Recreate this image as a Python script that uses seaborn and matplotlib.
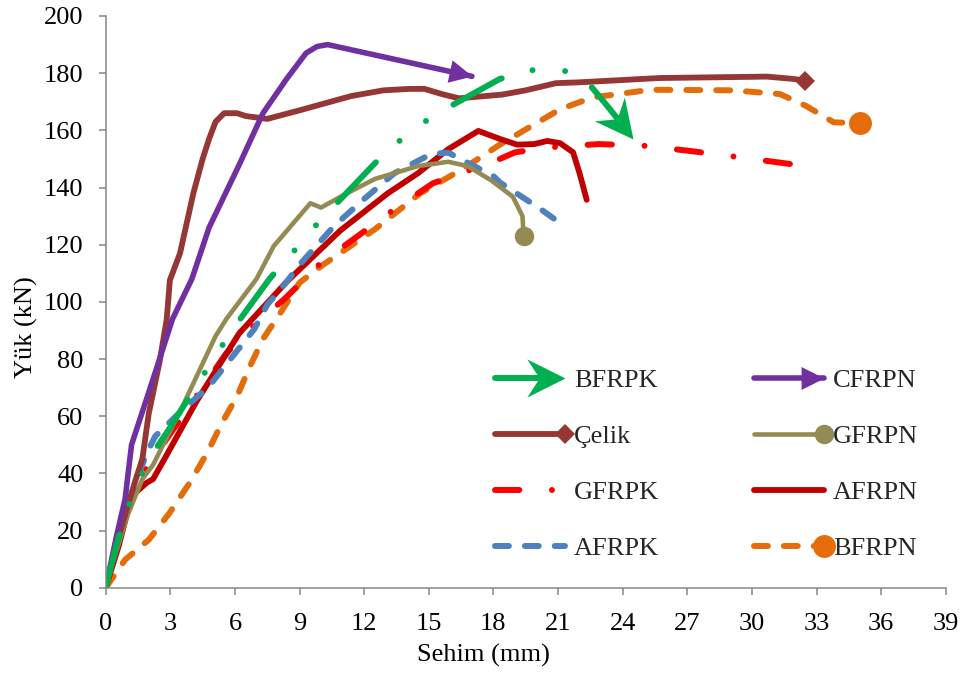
import numpy as np
import matplotlib
matplotlib.use("Agg")
import matplotlib.pyplot as plt
import seaborn as sns
from matplotlib.path import Path
from matplotlib.markers import MarkerStyle
from matplotlib.transforms import Affine2D
from matplotlib.lines import Line2D
from matplotlib.legend_handler import HandlerLine2D

# load-deflection curves (deflection in mm, load in kN)
bfrpk_x = [0, 0.5, 1.2, 2.0, 2.9, 3.7, 4.5, 5.3, 6.1, 7.6, 8.6, 9.6, 10.6, 12.5, 13.5, 14.7, 15.9, 18.3, 19.7, 21.1, 22.3, 23.4, 24.5]
bfrpk_y = [0, 15, 32, 45, 55, 64.5, 74, 83.5, 92.5, 108, 116.5, 125.5, 133.5, 148.5, 155.5, 162.5, 168, 178, 181, 181.5, 177.5, 167.5, 157]

cfrpn_x = [0, 0.5, 0.9, 1.2, 2.2, 3.1, 4.0, 4.8, 6.2, 7.3, 8.4, 9.3, 9.8, 10.3, 17.0]
cfrpn_y = [0, 18, 31, 50, 73, 94, 108, 126, 148, 166, 178, 187, 189.3, 190, 178.9]

celik_x = [0, 0.5, 1.0, 1.4, 1.7, 2.0, 2.5, 2.83, 2.98, 3.45, 4.07, 4.5, 4.8, 5.1, 5.5, 6.1, 6.5, 7.5, 9.0, 11.4, 12.9, 14.1, 14.8, 15.6, 16.4, 18.4, 19.5, 20.9, 22.0, 25.7, 30.7, 31.9, 32.45]
celik_y = [0, 15, 28, 38, 45, 61, 79, 93.7, 107.6, 117, 138, 150, 157, 163, 166, 166, 165, 164, 167, 172, 174, 174.5, 174.5, 172.7, 171.2, 172.5, 174, 176.5, 176.8, 178.3, 178.8, 178, 177.4]

gfrpn_x = [0, 0.3, 1.0, 1.7, 2.2, 3.6, 5.1, 5.6, 7.0, 7.8, 9.5, 10.0, 11.2, 12.5, 14.5, 15.9, 16.8, 17.9, 18.9, 19.35, 19.4]
gfrpn_y = [0, 8, 25, 38, 43, 64, 88, 94, 108, 119.5, 134.5, 133, 138, 143, 147.5, 149, 147.5, 142.5, 136.8, 130, 123.2]

gfrpk_x = [0, 0.5, 1.2, 1.9, 3.1, 4.4, 5.6, 7.0, 8.3, 10.0, 11.7, 13.4, 15.2, 17.0, 18.3, 19.0, 20.5, 22.9, 25.0, 27.0, 29.1, 31.8]
gfrpk_y = [0, 14, 32, 42, 55, 69, 82, 92.7, 101, 113.7, 123, 132.4, 141.5, 146.4, 150, 152.3, 154, 155.2, 154.6, 152.9, 150.9, 148.2]

afrpn_x = [0, 0.6, 1.2, 1.9, 2.2, 2.8, 4.2, 6.2, 8.4, 10.9, 13.1, 14.5, 15.9, 17.3, 18.3, 19.1, 19.9, 20.5, 21.1, 21.7, 22.0, 22.33]
afrpn_y = [0, 14.5, 32, 36.7, 38, 46, 65, 89, 107, 125, 138, 145, 153.4, 159.8, 157, 155, 155.2, 156.3, 155.5, 152.3, 145, 135.7]

afrpk_x = [0, 0.45, 1.2, 1.9, 2.3, 3.4, 4.8, 5.9, 6.9, 7.5, 8.4, 9.0, 10.6, 12.0, 13.4, 15.1, 15.9, 16.8, 18.0, 18.3, 20.2, 21.2]
afrpk_y = [0, 14.5, 33, 47, 53, 61, 70.5, 81, 90.5, 99, 107, 113, 126.5, 136, 145, 151.7, 152.2, 148.7, 144, 141.8, 132.4, 127]

bfrpn_x = [0, 0.9, 2.0, 2.95, 3.9, 4.7, 5.4, 6.1, 6.7, 7.3, 8.1, 9.0, 10.0, 12.5, 14.6, 16.0, 16.8, 18.3, 21.1, 22.6, 25.3, 29.1, 31.3, 32.5, 33.8, 35.0]
bfrpn_y = [0, 9.8, 16.8, 26, 36.7, 47, 57.7, 67, 77.5, 87, 96, 106.7, 112.5, 125.4, 138, 144, 147.6, 155, 167.4, 171.5, 174.2, 174, 172.7, 168.6, 162.8, 162.5]

x_ticks = list(range(0, 40, 3))
y_ticks = list(range(0, 201, 20))

sns.set_style("ticks")
plt.rcParams['font.family'] = ['Liberation Serif', 'DejaVu Serif']
plt.rcParams['lines.scale_dashes'] = False

dash_long = (0, (10, 11.5))
dash_dot = (15, (17.5, 23.5, 0.01, 23.5))
dash_dot_dot = (0, (39.6, 23, 0.01, 23.8, 0.01, 23))


def arrow_marker(kind, angle=0):
    if kind == 'stealth':
        verts = [(0, 0), (-2, 1.0), (-1.35, 0), (-2, -1.0), (0, 0)]
    else:
        verts = [(0, 0), (-2, 1.0), (-2, -1.0), (0, 0)]
    codes = [Path.MOVETO] + [Path.LINETO] * (len(verts) - 2) + [Path.CLOSEPOLY]
    return MarkerStyle(Path(verts, codes), transform=Affine2D().rotate_deg(angle))


# label, x, y, color, width, linestyle, end marker, marker size
series = [
    ('BFRPN', bfrpn_x, bfrpn_y, '#E46C0A', 4.3, dash_long, 'o', 16.5),
    ('GFRPK', gfrpk_x, gfrpk_y, '#FF0000', 4.3, dash_dot, None, 0),
    ('AFRPN', afrpn_x, afrpn_y, '#C00000', 4.2, '-', None, 0),
    ('AFRPK', afrpk_x, afrpk_y, '#4F81BD', 4.3, dash_long, None, 0),
    ('GFRPN', gfrpn_x, gfrpn_y, '#948A54', 3.3, '-', 'o', 14),
    ('Çelik', celik_x, celik_y, '#953735', 4.2, '-', 'D', 10.5),
    ('CFRPN', cfrpn_x, cfrpn_y, '#7030A0', 4.0, '-', 'tri', 33),
    ('BFRPK', bfrpk_x, bfrpk_y, '#00B050', 4.3, dash_dot_dot, 'stealth', 55),
]

fig = plt.figure(figsize=(9.68, 6.75), dpi=100)
ax = fig.add_axes([0.1092, 0.1293, 0.8678, 0.8470])
ax.set_xlim(0, 39)
ax.set_ylim(0, 200)

handles = {}
for name, xs, ys, col, lw, ls, mk, ms in series:
    sns.lineplot(x=xs, y=ys, ax=ax, color=col, lw=lw, linestyle=ls, sort=False,
                 estimator=None, errorbar=None, legend=False,
                 dash_capstyle='round', solid_capstyle='round', solid_joinstyle='round')
    if mk in ('stealth', 'tri'):
        p0 = ax.transData.transform((xs[-2], ys[-2]))
        p1 = ax.transData.transform((xs[-1], ys[-1]))
        ang = np.degrees(np.arctan2(p1[1] - p0[1], p1[0] - p0[0]))
        ax.plot(xs[-1], ys[-1], marker=arrow_marker(mk, ang), ms=ms, color=col, mew=0, zorder=4)
        leg_marker = arrow_marker(mk)
    elif mk is not None:
        ax.plot(xs[-1], ys[-1], marker=mk, ms=ms, color=col, mew=0, zorder=4)
        leg_marker = mk
    else:
        leg_marker = None
    leg_ls = ls if isinstance(ls, str) else (0, ls[1])
    handles[name] = Line2D([], [], color=col, lw=lw, linestyle=leg_ls, marker=leg_marker, ms=ms,
                           mew=0, dash_capstyle='round', solid_capstyle='round')


class EndMarker(HandlerLine2D):
    def create_artists(self, legend, orig_handle, xdescent, ydescent, width, height, fontsize, trans):
        arts = super().create_artists(legend, orig_handle, xdescent, ydescent, width, height, fontsize, trans)
        for a in arts:
            a.set_markevery([len(a.get_xdata()) - 1])
        return arts


order = ['BFRPK', 'Çelik', 'GFRPK', 'AFRPK', 'CFRPN', 'GFRPN', 'AFRPN', 'BFRPN']
fig.legend([handles[n] for n in order], order, loc='upper left',
           bbox_to_anchor=(495 / 968, 1 - 369 / 675), ncol=2, frameon=False,
           fontsize=19, handlelength=2.65, handletextpad=0.34, columnspacing=3.6,
           labelspacing=1.23, borderpad=0, borderaxespad=0, numpoints=1,
           handler_map={Line2D: EndMarker()})

ax.set_xticks(x_ticks)
ax.set_yticks(y_ticks)
sns.despine(ax=ax)
for s in ['left', 'bottom']:
    ax.spines[s].set_color('#868686')
    ax.spines[s].set_linewidth(1.1)
ax.tick_params(axis='both', direction='out', length=5, width=1.1, color='#868686',
               labelsize=19, labelcolor='black')
ax.tick_params(axis='y', pad=11)
ax.tick_params(axis='x', pad=13)

ax.set_xlabel('Sehim (mm)', fontsize=19, color='black')
ax.set_ylabel('Yük (kN)', fontsize=19, color='black')
ax.xaxis.set_label_coords(0.45, -0.098)
ax.yaxis.set_label_coords(-0.081, 0.456)

fig.savefig('out.png', dpi=100)
